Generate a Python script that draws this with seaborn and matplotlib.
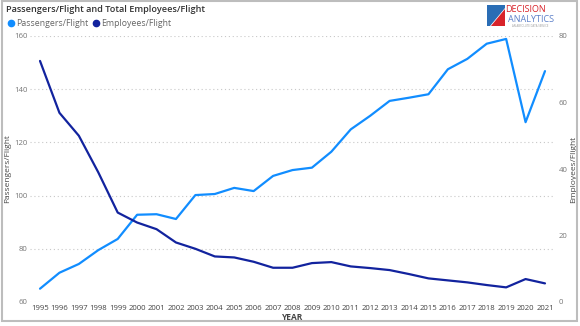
import matplotlib
matplotlib.use("Agg")
import matplotlib.pyplot as plt
import seaborn as sns
import pandas as pd
from matplotlib.patches import Rectangle, Polygon
from matplotlib.lines import Line2D

years = list(range(1995, 2022))
passengers = [65, 71, 74.3, 79.5, 83.7, 92.8, 93.0, 91.2, 100.2, 100.6, 102.9, 101.7,
              107.4, 109.6, 110.5, 116.5, 124.9, 130.0, 135.6, 136.8, 138.1, 147.5,
              151.4, 157.1, 158.9, 127.6, 146.8]
employees = [72.5, 56.9, 50.0, 39.0, 26.9, 23.9, 21.9, 17.9, 16.0, 13.7, 13.4, 12.1,
             10.3, 10.3, 11.7, 12.0, 10.7, 10.2, 9.6, 8.4, 7.1, 6.5, 5.9, 5.1, 4.4, 6.9, 5.6]
left_ticks = [60, 80, 100, 120, 140, 160]
right_ticks = [0, 20, 40, 60, 80]

df = pd.DataFrame({"YEAR": years, "Passengers/Flight": passengers, "Employees/Flight": employees})

sns.set_theme(style="white")
plt.rcParams['font.family'] = ['Open Sans', 'DejaVu Sans']

C_PAS = "#118DFF"
C_EMP = "#12239E"
TICK_C = "#777777"

fig = plt.figure(figsize=(5.8, 3.26), dpi=100)
fig.patch.set_facecolor("white")
ax = fig.add_axes([30.3/580, 1-302/326, (554.7-30.3)/580, 266/326])
ax2 = ax.twinx()

sns.lineplot(data=df, x="YEAR", y="Passengers/Flight", ax=ax, color=C_PAS, linewidth=1.6)
sns.lineplot(data=df, x="YEAR", y="Employees/Flight", ax=ax2, color=C_EMP, linewidth=1.6)

ax.set_xlim(1994.5, 2021.5)
ax.set_ylim(60, 160)
ax2.set_ylim(0, 80)
ax.set_xticks(years)
ax.set_xticklabels([str(y) for y in years], fontsize=5.6, color="#444444")
ax.set_yticks(left_ticks)
ax.set_yticklabels([str(t) for t in left_ticks], fontsize=5.6, color=TICK_C)
ax2.set_yticks(right_ticks)
ax2.set_yticklabels([str(t) for t in right_ticks], fontsize=5.6, color=TICK_C)
for a in (ax, ax2):
    for s in a.spines.values():
        s.set_visible(False)
    a.tick_params(length=0, pad=2)
ax.tick_params(axis='y', pad=2)
ax2.tick_params(axis='y', pad=3)
ax.grid(axis='y', linestyle=(0, (1, 2.5)), color="#c8c8c8", linewidth=0.8)
ax.grid(axis='x', visible=False)
ax2.grid(False)
ax.set_axisbelow(True)

ax.set_xlabel("YEAR", fontsize=6, color="#444444", labelpad=1, fontweight='bold')
ax.set_ylabel("Passengers/Flight", fontsize=6, color="#444444")
ax2.set_ylabel("Employees/Flight", fontsize=6, color="#444444", rotation=90)
ax.yaxis.set_label_coords((11 - 30.3) / 524.4, 0.5)
ax2.yaxis.set_label_coords((570 - 30.3) / 524.4, 0.5)

# title
fig.text(6/580, 1-10/326, "Passengers/Flight and Total Employees/Flight", fontsize=6.6,
         color="#333333", va="center", ha="left", fontweight='semibold')
# legend
handles = [Line2D([], [], marker='o', linestyle='', color=C_PAS, markersize=4.5),
           Line2D([], [], marker='o', linestyle='', color=C_EMP, markersize=4.5)]
fig.legend(handles, ["Passengers/Flight", "Employees/Flight"], loc="center left",
           bbox_to_anchor=(3/580, 1-24/326), ncol=2, frameon=False, fontsize=6.3,
           labelcolor="#666666", handletextpad=0.05, columnspacing=0.4, borderaxespad=0,
           handlelength=1.0)

# logo
def fx(x): return x/580
def fy(y): return 1-y/326
fig.patches.append(Polygon([(fx(487), fy(5)), (fx(505), fy(5)), (fx(505), fy(8)), (fx(490), fy(26)), (fx(487), fy(26))],
                           closed=True, transform=fig.transFigure, facecolor="#2a6db5", edgecolor='none'))
fig.patches.append(Polygon([(fx(505), fy(9)), (fx(505), fy(26)), (fx(491), fy(26))],
                           closed=True, transform=fig.transFigure, facecolor="#d8232a", edgecolor='none'))
fig.text(fx(505), fy(9.5), "DECISION", fontsize=6.5, color="#d8232a", va="center", ha="left")
fig.text(fx(508), fy(19.5), "ANALYTICS", fontsize=6.5, color="#5b7fc8", va="center", ha="left")
fig.text(fx(512), fy(26), "AN ABSOLUTE DATA SERVICE", fontsize=2, color="#999999", va="center", ha="left")

# border frame
fig.patches.append(Rectangle((fx(2), fy(321)), fx(577) - fx(2), fy(1) - fy(321),
                             transform=fig.transFigure, fill=False, edgecolor="#bdbdbd", linewidth=1.5))

fig.savefig("out.png", dpi=100)
